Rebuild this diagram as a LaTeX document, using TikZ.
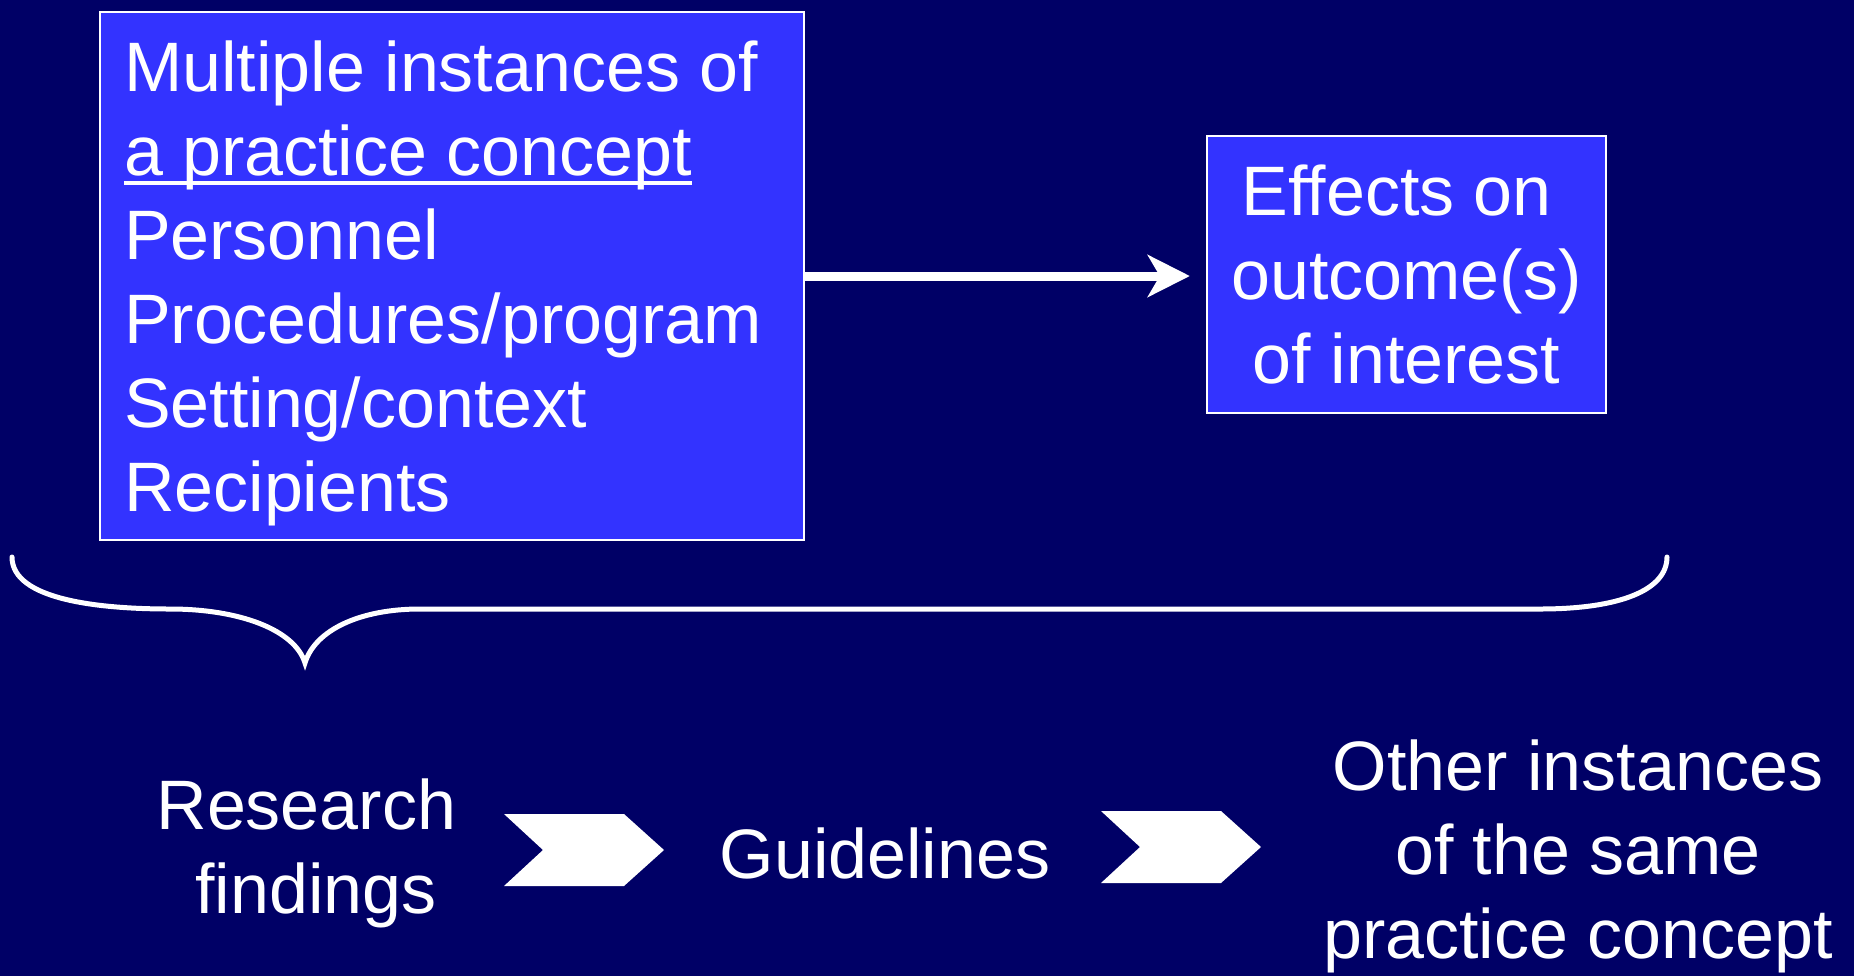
\documentclass[tikz,border=0pt]{standalone}
\usepackage{fontspec}
\setmainfont{Liberation Sans}
\usetikzlibrary{arrows.meta,positioning}
\definecolor{slidebg}{RGB}{0,0,102}
\definecolor{boxblue}{RGB}{51,51,255}
\newcommand{\lineunder}[1]{\leavevmode\setbox0=\hbox{#1}\rlap{\rule[-4.5pt]{\wd0}{2pt}}\box0}
\newcommand{\tspace}{\hspace*{\fontdimen2\font}}

\begin{document}
\begin{tikzpicture}[
  x=0.5pt, y=-0.5pt,
  font=\fontsize{35}{42}\selectfont, text=white,
  box/.style={draw=white,fill=boxblue,line width=1.2pt,inner sep=0pt},
  arr/.style={-{Stealth[length=21pt,width=21pt,inset=6pt]},line width=4.5pt,white},
  lbl/.style={align=center,anchor=base},
  chevron/.pic={\fill[white] (-80,-36) -- (40,-36) -- (80,0) -- (40,36) -- (-80,36) -- (-41,0) -- cycle;}
]
\useasboundingbox (0,0) rectangle (1854,976);
\fill[slidebg] (0,0) rectangle (1854,976);
\node[box,minimum width=352pt,minimum height=264pt,text width=328pt,align=flush left] (multi) at (452,276)
  {\rule{0pt}{33pt}Multiple instances of\\\lineunder{a practice concept}\\Personnel\\Procedures/program\\Setting/context\\Recipients};
\node[box,minimum width=199.5pt,minimum height=138.5pt,align=center] (effects) at (1406.5,274.5)
  {Effects on\tspace\\outcome(s)\\of interest};
\draw[arr,shorten >=8pt] (multi.east) -- (multi.east -| effects.west);
% brace under the top row
\draw[white,line width=2.5pt,line cap=round]
  (12,557) .. controls (12,600) and (100,609) .. (170,609)
  .. controls (240,609) and (295,630) .. (305,663)
  .. controls (315,630) and (360,609) .. (420,609) -- (1540,609)
  .. controls (1620,609) and (1667,590) .. (1667,557);
\node[lbl] (research) at (316,913) {Research\tspace\\findings};
\node[lbl] (guide) at (885,878) {Guidelines};
\node[lbl] (other) at (1578,958) {Other instances\\of the same\\practice concept};
\pic at (584,850) {chevron};
\pic at (1181,847) {chevron};
\end{tikzpicture}
\end{document}
